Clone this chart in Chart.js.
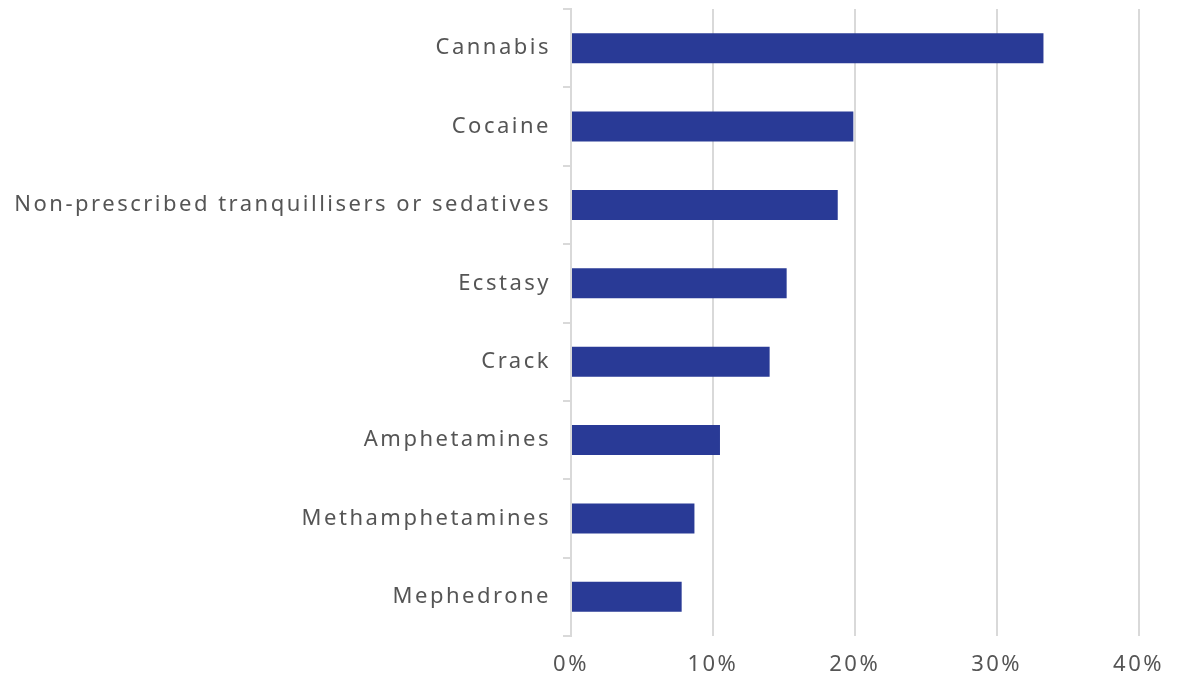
<!DOCTYPE html>
<html>
<head>
<meta charset="utf-8">
<script src="https://cdn.jsdelivr.net/npm/chart.js@4.4.1/dist/chart.umd.min.js"></script>
<style>
  html, body { margin: 0; padding: 0; background: #ffffff; }
  #wrap { width: 1180px; height: 679px; position: relative; }
</style>
</head>
<body>
<div id="wrap"><canvas id="chart" width="1180" height="679"></canvas></div>
<script>
// Substances, top to bottom
const substances = [
  'Cannabis',
  'Cocaine',
  'Non-prescribed tranquillisers or sedatives',
  'Ecstasy',
  'Crack',
  'Amphetamines',
  'Methamphetamines',
  'Mephedrone'
];

// Share of respondents (percent)
const shares = [33.3, 19.9, 18.8, 15.2, 14.0, 10.5, 8.7, 7.8];

// Horizontal axis ticks (percent)
const axisTicks = [0, 10, 20, 30, 40];

const labelFont = { family: "'Noto Sans', sans-serif", size: 22 };
const textColor = '#555555';
const gridColor = '#d9d9d9';

// Wide tracking for all text on the chart (the canvas state is reset on resize,
// so it is re-applied before measuring and before drawing)
const tracking = {
  id: 'tracking',
  beforeUpdate(chart) { chart.ctx.letterSpacing = '2.5px'; },
  beforeLayout(chart) { chart.ctx.letterSpacing = '2.5px'; },
  beforeDraw(chart) { chart.ctx.letterSpacing = '2.5px'; }
};

new Chart(document.getElementById('chart'), {
  type: 'bar',
  plugins: [tracking],
  data: {
    labels: substances,
    datasets: [{
      data: shares,
      backgroundColor: '#293a96',
      borderWidth: 0,
      categoryPercentage: 1,
      barPercentage: 0.383
    }]
  },
  options: {
    indexAxis: 'y',
    responsive: false,
    animation: false,
    layout: { padding: { top: 9, right: 39, left: 0, bottom: 0 } },
    plugins: { legend: { display: false }, tooltip: { enabled: false } },
    scales: {
      x: {
        min: axisTicks[0],
        max: axisTicks[axisTicks.length - 1],
        afterBuildTicks: (scale) => { scale.ticks = axisTicks.map(v => ({ value: v })); },
        grid: { color: gridColor, lineWidth: 2, drawTicks: false },
        border: { display: false },
        ticks: {
          font: labelFont,
          color: textColor,
          padding: 16,
          callback: (v) => v + '%'
        },
        afterFit: (scale) => { scale.height = 43; }
      },
      y: {
        grid: {
          offset: true,
          drawOnChartArea: false,
          drawTicks: true,
          tickLength: 8,
          color: gridColor,
          lineWidth: 2
        },
        border: { display: true, color: gridColor, width: 2 },
        ticks: {
          font: labelFont,
          color: textColor,
          padding: 12
        },
        afterFit: (scale) => {
          scale.width = 571;
          scale.paddingTop = 0;
          scale.paddingBottom = 0;
        }
      }
    }
  }
});
</script>
</body>
</html>
